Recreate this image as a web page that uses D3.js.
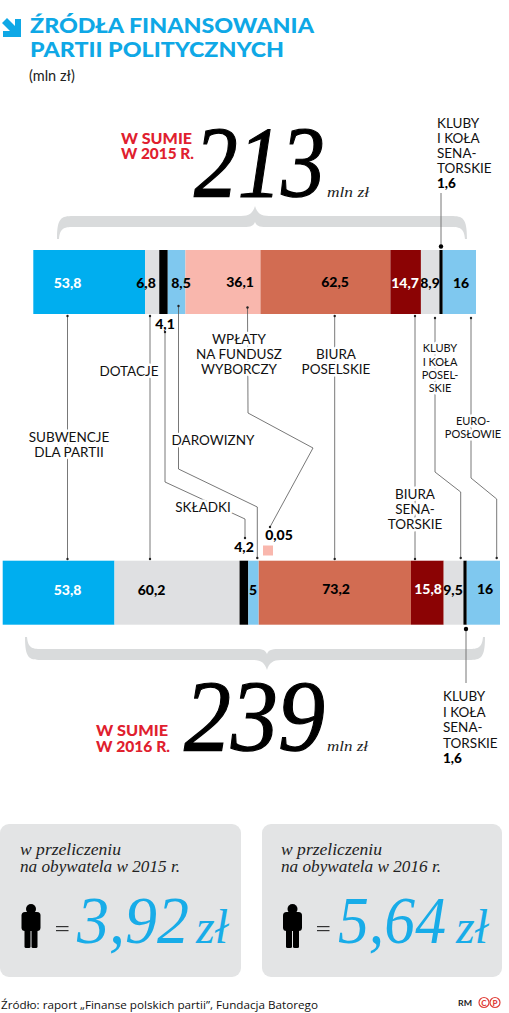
<!DOCTYPE html>
<html><head><meta charset="utf-8">
<script src="https://cdn.jsdelivr.net/npm/d3@7/dist/d3.min.js"></script>
<style>html,body{margin:0;padding:0;background:#fff}svg{display:block}</style>
</head><body><svg id="c" width="509" height="1013"></svg>
<script>
const categories=["Subwencje","Dotacje","Składki","Darowizny","Wpłaty na fundusz","Biura poselskie","Biura senatorskie","Kluby poselskie","Kluby senatorskie","Europosłowie"];
const values2015=[53.8,6.8,4.1,8.5,36.1,62.5,14.7,8.9,1.6,16];
const values2016=[53.8,60.2,4.2,5,0.05,73.2,15.8,9.5,1.6,16];
const colors=["#00aeef","#dfe0e2","#000000","#7fc8ef","#f9b7ad","#d26c52","#8b0304","#dfe0e2","#000000","#7fc8ef"];
const labels2015=["53,8","6,8","4,1","8,5","36,1","62,5","14,7","8,9","1,6","16"];
const labels2016=["53,8","60,2","4,2","5","0,05","73,2","15,8","9,5","1,6","16"];
const labelColors=["#fff","#000","#000","#000","#000","#000","#fff","#000","#000","#000"];

const FONT="Lato, 'Open Sans', sans-serif", SERIF="'Liberation Serif', serif";
const svg=d3.select("#c");
const sum=a=>d3.cumsum(a);
const x15=d3.scaleLinear().domain([0,d3.sum(values2015)]).range([33.3,476]);
const x16=d3.scaleLinear().domain([0,d3.sum(values2016)]).range([2.7,500]);

function bar(vals,x,y0,h){
  const c=sum(vals);
  svg.append("g").selectAll("rect").data(vals).join("rect")
    .attr("x",(d,i)=>x(c[i]-d)).attr("width",d=>x(d)-x(0))
    .attr("y",y0).attr("height",h).attr("fill",(d,i)=>colors[i]);
}
function txt(s,x,y,o={}){
  return svg.append("text").text(s).attr("x",x).attr("y",y)
   .attr("font-family",o.f||FONT).attr("font-size",o.s||13).attr("font-weight",o.w||400)
   .attr("font-style",o.i?"italic":"normal").attr("text-anchor",o.a||"start")
   .attr("fill",o.c||"#000").attr("letter-spacing",o.ls||0)
   .call(t=>{if(o.tl)t.attr("textLength",o.tl).attr("lengthAdjust","spacingAndGlyphs");
             if(o.halo)t.attr("stroke","#fff").attr("stroke-width",o.halo).attr("paint-order","stroke").attr("stroke-linejoin","round");
             if(o.sw)t.attr("stroke",o.c||"#000").attr("stroke-width",o.sw);
             if(o.sx)t.attr("x",0).attr("y",0).attr("transform",`translate(${x},${y}) scale(${o.sx},1)`);});
}

/* braces */
function brace(x0,xm,x1,yEnd,yTop,yBot,yTip){
  const up=yTip<yTop;
  const p=d3.path();
  const dir=up?1:-1;
  p.moveTo(x0,yEnd);
  p.bezierCurveTo(x0,yTop+dir*2,x0+4,yTop,x0+16,yTop);
  p.lineTo(xm-14,yTop);
  p.bezierCurveTo(xm-6,yTop,xm-2,yTop-dir*3,xm,yTip);
  p.bezierCurveTo(xm+2,yTop-dir*3,xm+6,yTop,xm+14,yTop);
  p.lineTo(x1-16,yTop);
  p.bezierCurveTo(x1-4,yTop,x1,yTop+dir*2,x1,yEnd);
  p.lineTo(x1-2,yEnd);
  p.bezierCurveTo(x1-3,yBot,x1-8,yBot,x1-18,yBot);
  p.lineTo(xm+14,yBot);
  p.bezierCurveTo(xm+6,yBot,xm+2,yBot,xm,yBot-dir*5);
  p.bezierCurveTo(xm-2,yBot,xm-6,yBot,xm-14,yBot);
  p.lineTo(x0+18,yBot);
  p.bezierCurveTo(x0+8,yBot,x0+3,yBot,x0+2,yEnd);
  p.closePath();
  svg.append("path").attr("d",p.toString()).attr("fill","#d9dbdc");
}
brace(57,255,467,239,216,227,206);
brace(25,267,485,637,660,649,670);

/* bars */
bar(values2015,x15,250,64);
bar(values2016,x16,560.7,64);

/* leader lines */
const leaders=[
 [[67.5,316],[67.5,559]],
 [[150,316],[150,559]],
 [[165,332],[165,482],[245,519],[245,538]],
 [[178.5,306],[178.5,469],[257.3,507],[257.3,558]],
 [[247.5,307.5],[248,413],[313,448],[270,527]],
 [[334.7,316],[334.7,559]],
 [[415,316],[415,559]],
 [[435,318],[435,472],[460.7,492],[460.7,558]],
 [[471,318],[471,478],[496.7,499],[496.7,558]]
];
const line=d3.line();
const lg=svg.append("g");
lg.selectAll("path").data(leaders).join("path").attr("d",line).attr("fill","none").attr("stroke","#555").attr("stroke-width",.8);
lg.selectAll("circle.a").data(leaders.flatMap(l=>[l[0],l[l.length-1]])).join("circle").attr("class","a")
  .attr("cx",d=>d[0]).attr("cy",d=>d[1]).attr("r",1.2).attr("fill","#222");
/* kluby senatorskie */
svg.append("line").attr("x1",441).attr("x2",441).attr("y1",193).attr("y2",246).attr("stroke","#777").attr("stroke-width",1);
svg.append("circle").attr("cx",441).attr("cy",246.5).attr("r",2.2).attr("fill","#000");
svg.append("line").attr("x1",466).attr("x2",466).attr("y1",629).attr("y2",683).attr("stroke","#777").attr("stroke-width",1);
svg.append("circle").attr("cx",466).attr("cy",629).attr("r",2.2).attr("fill","#000");

/* value labels */
const pos15=[[67.5,288],[146,288],[165,329],[181,288],[240,287],[335,287],[405,288],[430,288],null,[461,288]];
const pos16=[[67.5,595],[151.5,595],[244,552],[253,595],[279,540],[336,594],[428,594],[453,595],null,[485,594]];
function vals(lbl,pos){
  lbl.forEach((l,i)=>{ if(pos[i]) txt(l,pos[i][0],pos[i][1],{s:14,w:900,a:"middle",c:labelColors[i]});});
}
vals(labels2015,pos15);vals(labels2016,pos16);
svg.append("rect").attr("x",263).attr("y",545.5).attr("width",10).attr("height",10).attr("fill",colors[4]);

/* category labels */
const capLabels=[
 {l:["SUBWENCJE","DLA PARTII"],x:69,y:442,a:"middle"},
 {l:["DOTACJE"],x:129,y:376,a:"middle"},
 {l:["DAROWIZNY"],x:213,y:445,a:"middle"},
 {l:["SKŁADKI"],x:203,y:512,a:"middle"},
 {l:["WPŁATY","NA FUNDUSZ","WYBORCZY"],x:239,y:344,a:"middle"},
 {l:["BIURA","POSELSKIE"],x:336,y:359,a:"middle"},
 {l:["BIURA","SENA-","TORSKIE"],x:415,y:499,a:"middle"}
];
capLabels.forEach(d=>d.l.forEach((s,i)=>txt(s,d.x,d.y+i*15,{s:13.5,a:d.a,c:"#111",halo:5})));
[["KLUBY",352],["I KOŁA",366],["POSEL-",379],["SKIE",392]].forEach(d=>txt(d[0],440,d[1],{s:11,a:"middle",c:"#111",halo:5}));
[["EURO-",425],["POSŁOWIE",438]].forEach(d=>txt(d[0],473,d[1],{s:11,a:"middle",c:"#111",halo:5}));
[["KLUBY",128],["I KOŁA",143],["SENA-",158],["TORSKIE",173]].forEach(d=>txt(d[0],437,d[1],{s:13.5,c:"#111"}));
txt("1,6",437,188,{s:13.5,w:900});
[["KLUBY",701],["I KOŁA",717],["SENA-",732],["TORSKIE",748]].forEach(d=>txt(d[0],443,d[1],{s:13.5,c:"#111"}));
txt("1,6",443,763,{s:13.5,w:900});

/* title */
svg.append("path").attr("d","M2 23L7 18L15 26V19H21V37H3V31H10Z").attr("fill","#0fa8e6");
txt("ŹRÓDŁA FINANSOWANIA",30,33,{s:21.5,w:900,c:"#0fa8e6",tl:284});
txt("PARTII POLITYCZNYCH",30,57,{s:21.5,w:900,c:"#0fa8e6",tl:254});
txt("(mln zł)",29,81,{s:14.5,c:"#222"});

/* totals */
txt("W SUMIE",121,144,{s:14.5,w:900,c:"#e0202e",tl:71});
txt("W 2015 R.",121,159,{s:14.5,w:900,c:"#e0202e",tl:73});
txt("213",194,197,{f:SERIF,s:101,i:1,sw:1.2,sx:.865});
txt("mln zł",327,197,{f:SERIF,s:14,i:1,c:"#222",tl:42});
txt("W SUMIE",96,736,{s:14.5,w:900,c:"#e0202e",tl:72});
txt("W 2016 R.",96,752,{s:14.5,w:900,c:"#e0202e",tl:74});
txt("239",184,751,{f:SERIF,s:101,i:1,sw:1.2,sx:.93});
txt("mln zł",327,751,{f:SERIF,s:14,i:1,c:"#222",tl:41});

/* per capita cards */
const cards=[{x:0,y:"2015",v:"3,92",tx:20,px:31,ex:56,nx:77,nw:112,zx:196},
             {x:262,y:"2016",v:"5,64",tx:281,px:292.5,ex:317,nx:338,nw:108,zx:456}];
cards.forEach(c=>{
  svg.append("rect").attr("x",c.x).attr("y",824).attr("width",c.x?240:241).attr("height",153).attr("rx",9).attr("fill","#e3e4e5");
  txt("w przeliczeniu",c.tx,855,{f:SERIF,s:17,i:1,c:"#222",tl:101});
  txt("na obywatela w "+c.y+" r.",c.tx,872,{f:SERIF,s:17,i:1,c:"#222",tl:160});
  const g=svg.append("g").attr("transform",`translate(${c.px},0)`).attr("fill","#000");
  g.append("circle").attr("cy",909).attr("r",5);
  g.append("rect").attr("x",-9.5).attr("y",912).attr("width",19).attr("height",19).attr("rx",3.5);
  g.append("rect").attr("x",-6.5).attr("y",925).attr("width",6).attr("height",23).attr("rx",1.5);
  g.append("rect").attr("x",.5).attr("y",925).attr("width",6).attr("height",23).attr("rx",1.5);
  svg.append("rect").attr("x",c.ex).attr("y",926).attr("width",12.5).attr("height",1.2).attr("fill","#333");
  svg.append("rect").attr("x",c.ex).attr("y",930).attr("width",12.5).attr("height",1.2).attr("fill","#333");
  txt(c.v,c.nx,943,{f:SERIF,s:68,i:1,c:"#18ace8",tl:c.nw});
  txt("zł",c.zx,943,{f:SERIF,s:48,i:1,c:"#18ace8",tl:32});
});

/* footer */
txt("Źródło: raport „Finanse polskich partii”, Fundacja Batorego",1,1009,{f:"'Open Sans', sans-serif",s:11.5,c:"#111",tl:317});
txt("RM",458,1006,{s:8,w:700,c:"#222",tl:14});
[["C",484],["P",495]].forEach(d=>{
  svg.append("circle").attr("cx",d[1]).attr("cy",1002.5).attr("r",5).attr("fill","none").attr("stroke","#e0403a").attr("stroke-width",1.2);
  txt(d[0],d[1],1005.5,{s:8,w:900,a:"middle",c:"#e0403a"});
});
</script></body></html>
